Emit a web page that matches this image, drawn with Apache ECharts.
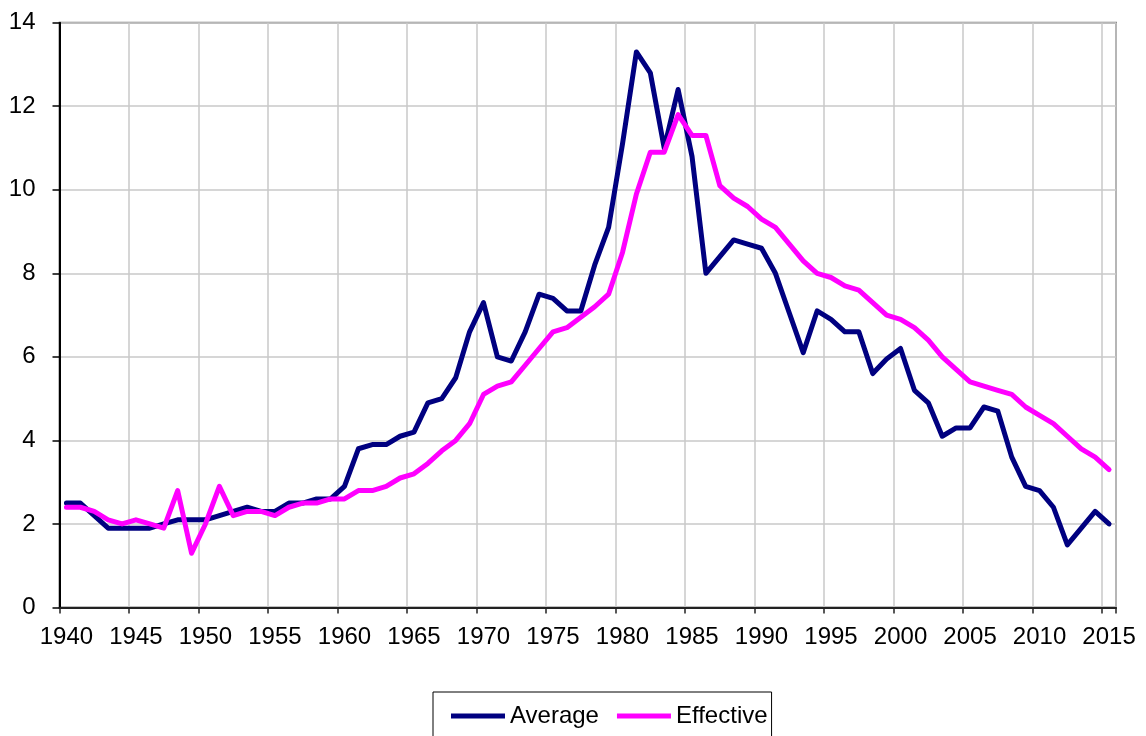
<!DOCTYPE html>
<html>
<head>
<meta charset="utf-8">
<script src="https://cdn.jsdelivr.net/npm/echarts@6/dist/echarts.min.js"></script>
<style>
  html, body { margin: 0; padding: 0; background: #fff; }
  #chart { width: 1146px; height: 736px; }
</style>
</head>
<body>
<div id="chart"></div>
<script>
const years = [];
for (let y = 1940; y <= 2015; y++) years.push(String(y));

const average = [
  2.5, 2.5, 2.2, 1.9, 1.9, 1.9, 1.9, 2.0, 2.1, 2.1,
  2.1, 2.2, 2.3, 2.4, 2.3, 2.3, 2.5, 2.5, 2.6, 2.6,
  2.9, 3.8, 3.9, 3.9, 4.1, 4.2, 4.9, 5.0, 5.5, 6.6,
  7.3, 6.0, 5.9, 6.6, 7.5, 7.4, 7.1, 7.1, 8.2, 9.1,
  11.1, 13.3, 12.8, 11.0, 12.4, 10.8, 8.0, 8.4, 8.8, 8.7,
  8.6, 8.0, 7.05, 6.1, 7.1, 6.9, 6.6, 6.6, 5.6, 5.95,
  6.2, 5.2, 4.9, 4.1, 4.3, 4.3, 4.8, 4.7, 3.6, 2.9,
  2.8, 2.4, 1.5, 1.9, 2.3, 2.0
];

const effective = [
  2.4, 2.4, 2.3, 2.1, 2.0, 2.1, 2.0, 1.9, 2.8, 1.3,
  2.0, 2.9, 2.2, 2.3, 2.3, 2.2, 2.4, 2.5, 2.5, 2.6,
  2.6, 2.8, 2.8, 2.9, 3.1, 3.2, 3.45, 3.75, 4.0, 4.4,
  5.1, 5.3, 5.4, 5.8, 6.2, 6.6, 6.7, 6.95, 7.2, 7.5,
  8.5, 9.9, 10.9, 10.9, 11.8, 11.3, 11.3, 10.1, 9.8, 9.6,
  9.3, 9.1, 8.7, 8.3, 8.0, 7.9, 7.7, 7.6, 7.3, 7.0,
  6.9, 6.7, 6.4, 6.0, 5.7, 5.4, 5.3, 5.2, 5.1, 4.8,
  4.6, 4.4, 4.1, 3.8, 3.6, 3.3
];

const seriesNames = ['Average', 'Effective'];
const yTicks = { min: 0, max: 14, interval: 2 };

const FONT = '"Liberation Sans", Arial, sans-serif';
const chart = echarts.init(document.getElementById('chart'), null, { renderer: 'canvas' });

chart.setOption({
  backgroundColor: '#ffffff',
  animation: false,
  grid: {
    left: 59.5, right: 30, top: 22.7, bottom: 128.5,
    show: true, borderColor: '#808080', borderWidth: 2, backgroundColor: '#ffffff'
  },
  legend: {
    data: seriesNames,
    left: 433, top: 692,
    orient: 'horizontal',
    icon: 'rect',
    itemWidth: 54, itemHeight: 5,
    itemGap: 18,
    padding: [12, 4, 30, 18],
    borderColor: '#000', borderWidth: 1,
    textStyle: { fontFamily: FONT, fontSize: 24, color: '#000' }
  },
  xAxis: {
    type: 'category',
    data: years,
    boundaryGap: true,
    axisLine: { lineStyle: { color: '#222', width: 2 } },
    axisTick: { show: true, interval: 4, length: 6, lineStyle: { color: '#222', width: 1.5 } },
    axisLabel: { interval: 4, margin: 18, fontFamily: FONT, fontSize: 24, color: '#000' },
    splitLine: { show: true, interval: 4, lineStyle: { color: '#c8c8c8', width: 1.5 } }
  },
  yAxis: {
    type: 'value',
    min: yTicks.min, max: yTicks.max, interval: yTicks.interval,
    axisLine: { show: true, lineStyle: { color: '#000', width: 2 } },
    axisTick: { show: true, length: 7, lineStyle: { color: '#000', width: 1.5 } },
    axisLabel: { margin: 24, fontFamily: FONT, fontSize: 24, color: '#000' },
    splitLine: { show: true, lineStyle: { color: '#c8c8c8', width: 1.5 } }
  },
  series: [
    {
      name: seriesNames[0], type: 'line', data: average,
      symbol: 'none', smooth: false,
      itemStyle: { color: '#000080' },
      lineStyle: { color: '#000080', width: 5, cap: 'round', join: 'round' }
    },
    {
      name: seriesNames[1], type: 'line', data: effective,
      symbol: 'none', smooth: false,
      itemStyle: { color: '#ff00ff' },
      lineStyle: { color: '#ff00ff', width: 5, cap: 'round', join: 'round' }
    }
  ]
});
</script>
</body>
</html>
